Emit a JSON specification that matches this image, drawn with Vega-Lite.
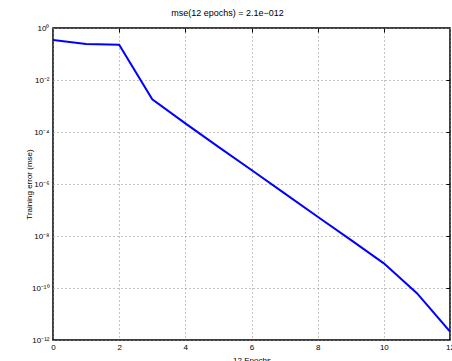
{
  "$schema": "https://vega.github.io/schema/vega-lite/v6.json",
  "width": 397,
  "height": 312,
  "autosize": {"type": "none"},
  "padding": {"left": 53, "top": 28, "right": 2, "bottom": 21},
  "background": "white",
  "title": {
    "text": "mse(12 epochs) = 2.1e\u2212012",
    "font": "Liberation Sans",
    "fontSize": 9,
    "fontWeight": "normal",
    "color": "#000000",
    "offset": 6,
    "dx": -24
  },
  "config": {
    "view": {"stroke": "#000000", "strokeWidth": 1.5},
    "font": "Liberation Sans"
  },
  "data": {
    "values": [
      {"epoch": 0, "mse": 0.347},
      {"epoch": 1, "mse": 0.24},
      {"epoch": 2, "mse": 0.229},
      {"epoch": 3, "mse": 0.00182},
      {"epoch": 4, "mse": 0.000214},
      {"epoch": 5, "mse": 2.69e-5},
      {"epoch": 6, "mse": 3.47e-6},
      {"epoch": 7, "mse": 4.37e-7},
      {"epoch": 8, "mse": 5.5e-8},
      {"epoch": 9, "mse": 7.1e-9},
      {"epoch": 10, "mse": 8.9e-10},
      {"epoch": 11, "mse": 6.3e-11},
      {"epoch": 12, "mse": 2.1e-12}
    ]
  },
  "resolve": {"axis": {"x": "independent", "y": "independent"}},
  "layer": [
    {
      "mark": {"type": "line", "color": "#0000ff", "strokeWidth": 2, "clip": true},
      "encoding": {
        "x": {
          "field": "epoch",
          "type": "quantitative",
          "scale": {"domain": [0, 12], "nice": false, "zero": false},
          "axis": {
            "title": "12 Epochs",
            "titleFontSize": 8,
            "titleFontWeight": "normal",
            "titleColor": "#000000",
            "titlePadding": 5,
            "values": [0, 2, 4, 6, 8, 10, 12],
            "labelFontSize": 8,
            "labelColor": "#000000",
            "labelPadding": 3,
            "labelFlush": false,
            "labelOverlap": false,
            "domain": false,
            "ticks": false,
            "grid": true,
            "gridColor": "#888888",
            "gridDash": [1, 3],
            "gridWidth": 1
          }
        },
        "y": {
          "field": "mse",
          "type": "quantitative",
          "scale": {"type": "log", "domain": [1e-12, 1], "nice": false},
          "axis": {
            "title": "Training error (mse)",
            "titleFontSize": 8,
            "titleFontWeight": "normal",
            "titleColor": "#000000",
            "titleX": -20,
            "titleY": 156,
            "titleAngle": -90,
            "titleBaseline": "bottom",
            "titleAlign": "center",
            "values": [1e-12, 1e-10, 1e-8, 1e-6, 1e-4, 1e-2, 1],
            "labelExpr": "datum.value >= 0.5 ? '10\u2070' : datum.value >= 0.005 ? '10\u207b\u00b2' : datum.value >= 5e-5 ? '10\u207b\u2074' : datum.value >= 5e-7 ? '10\u207b\u2076' : datum.value >= 5e-9 ? '10\u207b\u2078' : datum.value >= 5e-11 ? '10\u207b\u00b9\u2070' : '10\u207b\u00b9\u00b2'",
            "labelFontSize": 8,
            "labelColor": "#000000",
            "labelPadding": 4,
            "labelFlush": false,
            "labelOverlap": false,
            "domain": false,
            "ticks": false,
            "grid": true,
            "gridColor": "#888888",
            "gridDash": [1, 3],
            "gridWidth": 1
          }
        }
      }
    },
    {
      "mark": {"type": "line", "opacity": 0, "clip": true},
      "encoding": {
        "x": {
          "field": "epoch",
          "type": "quantitative",
          "axis": {
            "orient": "top",
            "title": null,
            "labels": false,
            "domain": false,
            "grid": false,
            "ticks": true,
            "tickSize": -4,
            "tickColor": "#000000",
            "values": [2, 4, 6, 8, 10]
          }
        },
        "y": {
          "field": "mse",
          "type": "quantitative",
          "axis": {
            "orient": "right",
            "title": null,
            "labels": false,
            "domain": false,
            "grid": false,
            "ticks": true,
            "tickSize": -4,
            "tickColor": "#000000",
            "values": [1e-10, 1e-8, 1e-6, 1e-4, 1e-2]
          }
        }
      }
    }
  ]
}
